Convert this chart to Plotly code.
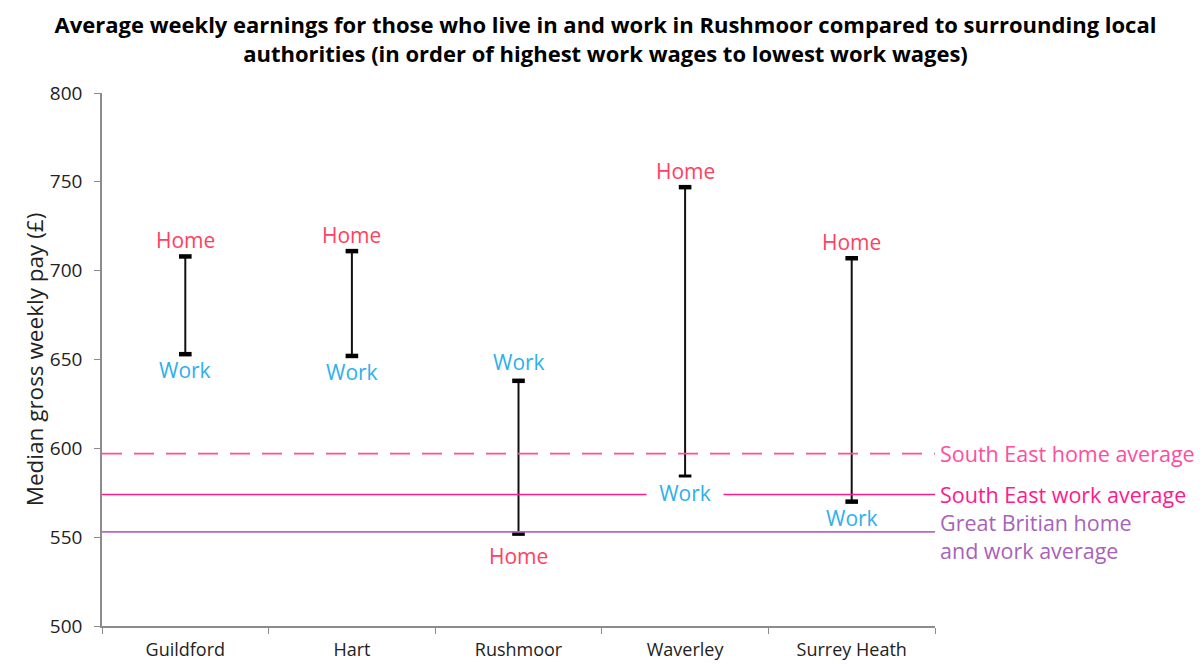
import plotly.graph_objects as go

# ---- data ----
categories = ["Guildford", "Hart", "Rushmoor", "Waverley", "Surrey Heath"]
home_pay = [708, 711, 552, 747, 707]
work_pay = [653, 652, 638, 584, 570]
se_home_avg = 597
se_work_avg = 574
gb_avg = 553
ref_labels = ["South East home average", "South East work average",
              "Great Britian home<br>and work average"]

HOME_C = "#FF4060"
WORK_C = "#2FB0EC"
SE_HOME_C = "#FF4D9E"
SE_WORK_C = "#FF1A8C"
GB_LINE_C = "#B36AC4"
GB_TEXT_C = "#A862BA"
FONT = "Open Sans"

fig = go.Figure()

# vertical range lines
xs, ys = [], []
for c, h, w in zip(categories, home_pay, work_pay):
    xs += [c, c, None]
    ys += [h, w, None]
fig.add_trace(go.Scatter(x=xs, y=ys, mode="lines",
                         line=dict(color="#111111", width=2),
                         hoverinfo="skip", showlegend=False))
# caps
fig.add_trace(go.Scatter(x=categories + categories, y=home_pay + work_pay,
                         mode="markers",
                         marker=dict(symbol="line-ew", size=9,
                                     line=dict(color="black", width=4.5)),
                         showlegend=False))

# reference lines (span plot width)
fig.add_hline(y=se_home_avg, line=dict(color=SE_HOME_C, width=1.6, dash="20px,12px"))
fig.add_hline(y=se_work_avg, line=dict(color=SE_WORK_C, width=1.6))
fig.add_hline(y=gb_avg, line=dict(color=GB_LINE_C, width=1.6))

ref_vals = [se_home_avg, se_work_avg, gb_avg]

# Home / Work labels
for c, h, w in zip(categories, home_pay, work_pay):
    home_above = h > w
    fig.add_annotation(x=c, y=h, text="Home", showarrow=False,
                       yanchor="bottom" if home_above else "top",
                       yshift=0 if home_above else -6,
                       font=dict(family=FONT, size=21, color=HOME_C))
    label_center = w - 11 if home_above else w + 11
    crosses = any(abs(label_center - v) < 5 for v in ref_vals)
    fig.add_annotation(x=c, y=w, text="Work", showarrow=False,
                       yanchor="top" if home_above else "bottom",
                       yshift=0 if home_above else 3,
                       bgcolor="white" if crosses else "rgba(0,0,0,0)",
                       borderpad=1, width=74 if crosses else None,
                       font=dict(family=FONT, size=21, color=WORK_C))

# right side labels
for val, txt, col in zip(ref_vals, ref_labels, [SE_HOME_C, SE_WORK_C, GB_TEXT_C]):
    fig.add_annotation(xref="paper", x=1.004, y=val, text=txt, showarrow=False,
                       xanchor="left", yanchor="middle", align="left",
                       yshift=-5 if "<br>" in txt else 0,
                       font=dict(family=FONT, size=21.5, color=col))

fig.update_layout(
    width=1195, height=656,
    margin=dict(l=94, r=268, t=85, b=38),
    paper_bgcolor="white", plot_bgcolor="white",
    title=dict(text="Average weekly earnings for those who live in and work in Rushmoor compared to surrounding local<br>authorities (in order of highest work wages to lowest work wages)",
               x=0.5, xanchor="center", xref="container",
               y=0.962, yanchor="middle", yref="container",
               font=dict(family=FONT, size=22, color="black", weight="bold")),
    font=dict(family=FONT),
)
fig.update_xaxes(type="category", categoryorder="array", categoryarray=categories,
                 range=[-0.5, 4.5], showgrid=False, showline=True,
                 linecolor="#8c8c8c", linewidth=1.5, automargin=False,
                 ticks="outside", tickson="boundaries", ticklen=6,
                 ticklabelstandoff=7,
                 tickcolor="#8c8c8c", tickfont=dict(family=FONT, size=18, color="#222222"))
fig.update_yaxes(range=[500, 800], dtick=50, showgrid=False, showline=True,
                 linecolor="#8c8c8c", linewidth=1.5, ticks="outside", ticklen=6,
                 tickcolor="#8c8c8c", zeroline=False, ticklabelstandoff=8,
                 automargin=False,
                 tickfont=dict(family=FONT, size=19, color="#222222"),
                 title=dict(text="Median gross weekly pay (£)", standoff=0,
                            font=dict(family=FONT, size=22.5, color="#222222")))

fig.write_html("out.html")
